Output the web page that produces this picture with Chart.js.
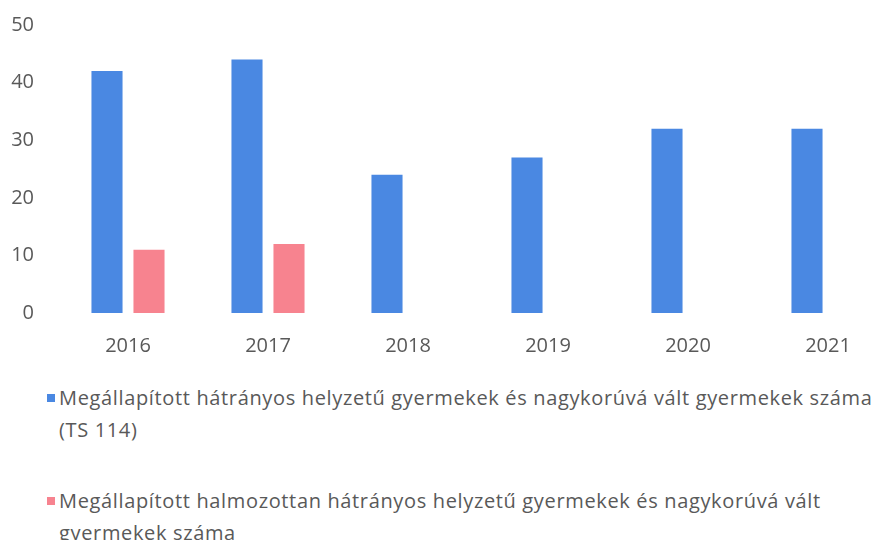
<!DOCTYPE html>
<html>
<head>
<meta charset="utf-8">
<script src="https://cdn.jsdelivr.net/npm/chart.js@4"></script>
<style>
  html, body { margin: 0; padding: 0; background: #fff; overflow: hidden; width: 877px; height: 540px; }
  #wrap { position: absolute; left: 0; top: 0; width: 900px; height: 360px; }
  #legend { position: absolute; left: 47px; top: 382px; width: 832px; font-family: "Open Sans", sans-serif;
            font-size: 20px; letter-spacing: 0.65px; color: #595959; line-height: 32px; }
  .item { position: relative; padding-left: 12px; margin-bottom: 39px; }
  .box { position: absolute; left: 0; top: 12px; width: 8px; height: 8px; }
</style>
</head>
<body>
<div id="wrap"><canvas id="grafico"></canvas></div>
<div id="legend"></div>
<script>
const anos = ['2016', '2017', '2018', '2019', '2020', '2021'];
const hatranyos = [42, 44, 24, 27, 32, 32];
const halmozottan = [11, 12, null, null, null, null];
const rotulos = [
  'Megállapított hátrányos helyzetű gyermekek és nagykorúvá vált gyermekek száma (TS 114)',
  'Megállapított halmozottan hátrányos helyzetű gyermekek és nagykorúvá vált gyermekek száma'
];
const cores = ['#4a88e2', '#f7838f'];

const fonte = { family: '"Open Sans", sans-serif', size: 20 };

new Chart(document.getElementById('grafico'), {
  type: 'bar',
  data: {
    labels: anos,
    datasets: [
      { label: rotulos[0], data: hatranyos, backgroundColor: cores[0] },
      { label: rotulos[1], data: halmozottan, backgroundColor: cores[1] }
    ]
  },
  options: {
    responsive: true,
    maintainAspectRatio: false,
    animation: false,
    layout: { padding: { top: 25, right: 2, bottom: 0, left: 0 } },
    datasets: { bar: { categoryPercentage: 0.6, barPercentage: 0.74 } },
    plugins: { legend: { display: false }, tooltip: { enabled: false } },
    scales: {
      x: {
        grid: { display: false },
        border: { display: false },
        ticks: { color: '#595959', font: fonte, padding: 13 },
        afterFit: s => { s.height = 47; }
      },
      y: {
        min: 0, max: 50,
        grid: { display: false },
        border: { display: false },
        ticks: { stepSize: 10, color: '#595959', font: fonte, padding: 16 },
        // a padding dos rótulos não deve empurrar o topo da área do gráfico
        afterFit: s => { s.width = 58; s.paddingTop = 0; s.paddingBottom = 0; }
      }
    }
  }
});

const legenda = document.getElementById('legend');
rotulos.forEach((txt, i) => {
  const div = document.createElement('div');
  div.className = 'item';
  const box = document.createElement('span');
  box.className = 'box';
  box.style.background = cores[i];
  div.appendChild(box);
  div.appendChild(document.createTextNode(txt));
  legenda.appendChild(div);
});
</script>
</body>
</html>
